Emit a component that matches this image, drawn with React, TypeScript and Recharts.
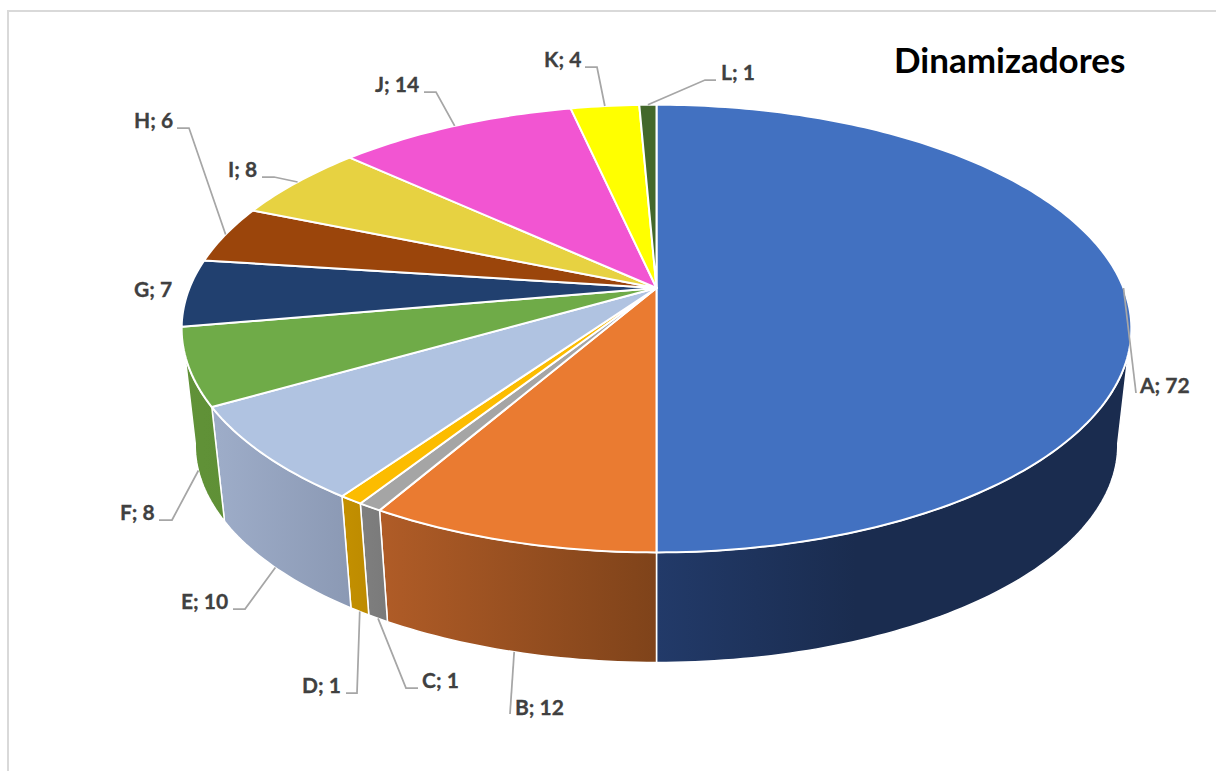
import React from "react";
import { PieChart, Pie } from "recharts";

const categories = ["A", "B", "C", "D", "E", "F", "G", "H", "I", "J", "K", "L"];
const values = [72, 12, 1, 1, 10, 8, 7, 6, 8, 14, 4, 1];
const topColors = ["#4271c1", "#ea7b31", "#a5a5a5", "#fcbc00", "#b0c3e1", "#6fab48", "#21406f", "#9b450b", "#e7d241", "#f255d2", "#ffff00", "#43682b"];
const wallLeft = ["#223a69", "#b05c27", "#7f7f7f", "#c49000", "#9eadc9", "#619238", "#1a3358", "#7c3708", "#b9a834", "#c244a8", "#cccc00", "#365322"];
const wallRight = ["#1a2c4f", "#7f431a", "#7a7a7a", "#bd8b00", "#8b99b4", "#5f9036", "#1a3358", "#7c3708", "#b9a834", "#c244a8", "#cccc00", "#365322"];
const wallFade = [0.42, 1, 1, 1, 1, 1, 1, 1, 1, 1, 1, 1];

// Label placement (text anchor and leader elbow), separate from the values.
const labelX = [1140, 515, 422, 302, 181, 120, 134, 134, 228, 375, 544, 721];
const labelY = [393, 715, 688, 693, 609, 520, 297, 128, 177, 92, 67, 80];
const leaderElbow: ([number, number] | null)[] = [
  null, null, [406, 688], [357, 693], [245, 609], [172, 520], null, [189, 128], [274, 177], [436, 92], [597, 67], [705, 80],
];
const leaderEnd: ([number, number] | null)[] = [
  [1136, 393], [510, 714], [418, 688], [346, 693], [233, 609], [159, 520], null, [177, 128], [262, 177], [424, 92], [585, 67], [716, 80],
];
const leaderShift = [0, 0, 0, 0, 0, -3, 0, 0, 0, 0, 0, 0];

const data = categories.map((name, i) => ({ name, value: values[i] }));

// Perspective of the pie's plane.
const CX = 656.5;
const CY = 288;
const RADIUS = 467;
const TILT = 216.5 / 467;
const PERSPECTIVE = -0.1812;
const VANISH_Y = 4400;
const DEPTH_SCALE = 0.9714;
const WALL_FROM = -10;
const WALL_TO = -170;
const RAD = Math.PI / 180;

type P = [number, number];
const onTop = (cx: number, cy: number, r: number, deg: number): P => {
  const x = Math.cos(deg * RAD);
  const yd = -Math.sin(deg * RAD);
  const w = 1 + PERSPECTIVE * yd;
  return [cx + (r * x) / w, cy + (r * TILT * yd) / w];
};
const toBottom = (cx: number, p: P): P => [
  cx + (p[0] - cx) * DEPTH_SCALE,
  VANISH_Y - (VANISH_Y - p[1]) * DEPTH_SCALE,
];
const arc = (cx: number, cy: number, r: number, a0: number, a1: number): P[] => {
  const n = Math.max(2, Math.ceil(Math.abs(a1 - a0)));
  const out: P[] = [];
  for (let i = 0; i <= n; i++) out.push(onTop(cx, cy, r, a0 + ((a1 - a0) * i) / n));
  return out;
};
const toPath = (pts: P[]) => "M" + pts.map((p) => `${p[0].toFixed(2)},${p[1].toFixed(2)}`).join("L") + "Z";

const TopFace = (props: any) => {
  const { cx, cy, outerRadius, startAngle, endAngle, index } = props;
  const i = index ?? categories.indexOf(props.name);
  const pts: P[] = [[cx, cy], ...arc(cx, cy, outerRadius, startAngle, endAngle)];
  return <path d={toPath(pts)} fill={topColors[i]} stroke="#ffffff" strokeWidth={2} strokeLinejoin="round" />;
};

const Wall = (props: any) => {
  const { cx, cy, outerRadius, startAngle, endAngle, index } = props;
  const i = index ?? categories.indexOf(props.name);
  // Only the part of the rim facing the viewer shows a wall.
  const a0 = Math.min(startAngle, WALL_FROM);
  const a1 = Math.max(endAngle, WALL_TO);
  if (a0 - a1 < 0.01) return <g />;
  const top = arc(cx, cy, outerRadius, a0, a1);
  const bottom = top.map((p) => toBottom(cx, p)).reverse();
  const id = `wall-${i}`;
  return (
    <g>
      <defs>
        <linearGradient id={id} x1="0" y1="0" x2="1" y2="0">
          <stop offset="0" stopColor={wallLeft[i]} />
          <stop offset={wallFade[i]} stopColor={wallRight[i]} />
        </linearGradient>
      </defs>
      <path d={toPath([...top, ...bottom])} fill={`url(#${id})`} stroke="#ffffff" strokeWidth={1.5} strokeLinejoin="round" />
    </g>
  );
};

const SliceLabel = (props: any) => {
  const { cx, cy, outerRadius, midAngle, index } = props;
  const yd = -Math.sin(midAngle * RAD);
  const rim = onTop(cx, cy, outerRadius, midAngle + leaderShift[index]);
  const start = yd > 0.3 ? toBottom(cx, rim) : rim;
  const end = leaderEnd[index];
  const elbow = leaderElbow[index];
  const pts = end ? [start, ...(elbow ? [elbow] : []), end] : [];
  return (
    <g>
      {pts.length > 0 && (
        <polyline points={pts.map((p) => p.join(",")).join(" ")} fill="none" stroke="#a6a6a6" strokeWidth={1.75} />
      )}
      <text x={labelX[index]} y={labelY[index]} fill="#404040" stroke="#404040" strokeWidth={0.3} fontFamily="Lato" fontWeight={700} fontSize={21}>
        {`${categories[index]}; ${values[index]}`}
      </text>
    </g>
  );
};

export default function App() {
  return (
    <div style={{ position: "fixed", left: 0, top: 0, width: 1216, height: 771, overflow: "hidden", background: "#ffffff" }}>
      <div style={{ position: "absolute", left: 7, top: 10, width: 1300, height: 900, border: "2px solid #d9d9d9" }} />
      <div style={{ position: "absolute", left: 894, top: 37, fontFamily: "Lato", fontWeight: 700, fontSize: 35, lineHeight: "44px", color: "#000000" }}>
        Dinamizadores
      </div>
      <div style={{ position: "absolute", left: 0, top: 0 }}>
        <PieChart width={1216} height={771} margin={{ top: 0, right: 0, bottom: 0, left: 0 }}>
          <Pie
            data={data}
            dataKey="value"
            nameKey="name"
            cx={CX}
            cy={CY}
            outerRadius={RADIUS}
            startAngle={90}
            endAngle={-270}
            stroke="none"
            isAnimationActive={false}
            shape={Wall}
            inactiveShape={Wall}
            activeShape={Wall}
            legendType="none"
          />
          <Pie
            data={data}
            dataKey="value"
            nameKey="name"
            cx={CX}
            cy={CY}
            outerRadius={RADIUS}
            startAngle={90}
            endAngle={-270}
            stroke="none"
            isAnimationActive={false}
            shape={TopFace}
            inactiveShape={TopFace}
            activeShape={TopFace}
            label={SliceLabel}
            labelLine={false}
            legendType="none"
          />
        </PieChart>
      </div>
    </div>
  );
}
